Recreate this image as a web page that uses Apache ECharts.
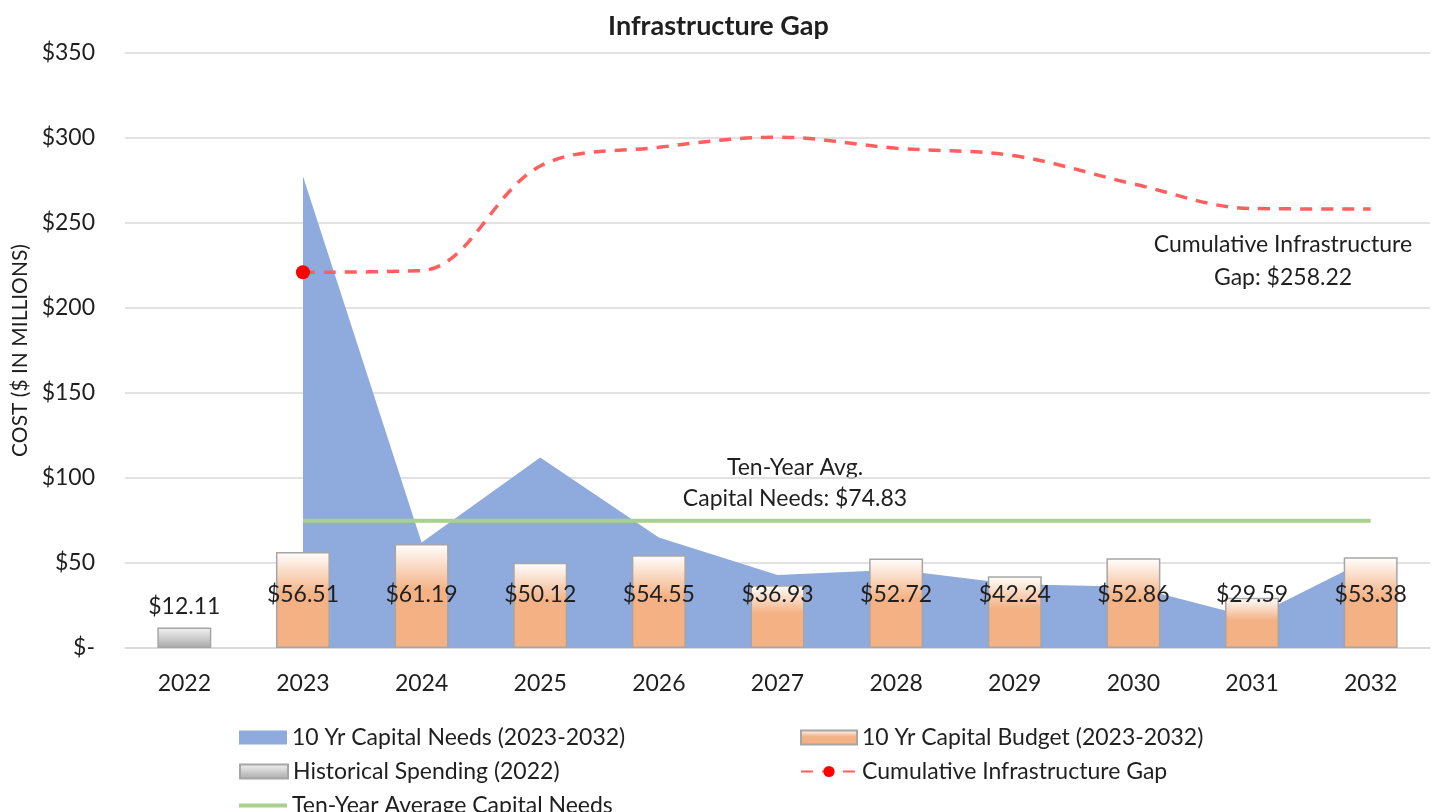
<!DOCTYPE html>
<html>
<head>
<meta charset="utf-8">
<title>Infrastructure Gap</title>
<script src="https://cdn.jsdelivr.net/npm/echarts/dist/echarts.min.js"></script>
<style>
  html, body { margin: 0; padding: 0; background: #fff; }
  #chart { width: 1437px; height: 812px; }
</style>
</head>
<body>
<div id="chart"></div>
<script>
const years = ['2022', '2023', '2024', '2025', '2026', '2027', '2028', '2029', '2030', '2031', '2032']
const capitalNeeds = [null, 277.5, 62, 112, 65, 43, 46, 37.5, 36, 18, 53]
const capitalBudget = [null, 56.51, 61.19, 50.12, 54.55, 36.93, 52.72, 42.24, 52.86, 29.59, 53.38]
const historicalSpending = [12.11, null, null, null, null, null, null, null, null, null, null]
const cumulativeGap = [null, 221, 222, 283.5, 294.5, 300.5, 294, 289.5, 273, 258.5, 258.22]
const tenYearAvg = [null, 74.83, 74.83, 74.83, 74.83, 74.83, 74.83, 74.83, 74.83, 74.83, 74.83]
const yTicks = [0, 50, 100, 150, 200, 250, 300, 350]

const FONT = 'Lato, "Noto Sans", sans-serif'
const TEXT = '#1f1f1f'

const myChart = echarts.init(document.getElementById('chart'))

const money = v => '$' + v.toFixed(2)

// one legend per row so nothing wraps
const legendRow = (left, top, name, extra) => Object.assign({
    left: left,
    top: top,
    itemWidth: 48,
    itemHeight: 14,
    textStyle: { fontSize: 23, color: TEXT, fontFamily: FONT },
    data: [{ name: name, icon: 'rect' }]
}, extra || {})

myChart.setOption({
    animation: false,
    textStyle: { fontFamily: FONT },
    title: {
        text: 'Infrastructure Gap',
        left: 'center',
        top: 8,
        textStyle: { fontSize: 27, fontWeight: 'bold', color: TEXT, fontFamily: FONT }
    },
    grid: { left: 125, right: 7, top: 53, bottom: 164 },
    legend: [
        legendRow(234, 721, '10 Yr Capital Needs (2023-2032)'),
        legendRow(234, 755, 'Historical Spending (2022)'),
        legendRow(234, 789, 'Ten-Year Average Capital Needs', { itemHeight: 4 }),
        legendRow(795, 721, '10 Yr Capital Budget (2023-2032)', { itemWidth: 56 }),
        legendRow(795, 755, 'Cumulative Infrastructure Gap', {
            itemWidth: 56,
            data: [{ name: 'Cumulative Infrastructure Gap' }]
        })
    ],
    xAxis: {
        type: 'category',
        data: years,
        axisLine: { lineStyle: { color: '#d9d9d9', width: 1.5 } },
        axisTick: { show: false },
        axisLabel: { fontSize: 23, color: TEXT, margin: 24, fontFamily: FONT }
    },
    yAxis: {
        type: 'value',
        min: yTicks[0],
        max: yTicks[yTicks.length - 1],
        interval: 50,
        name: 'COST ($ IN MILLIONS)',
        nameLocation: 'middle',
        nameGap: 93,
        nameTextStyle: { fontSize: 21, color: TEXT, fontFamily: FONT },
        axisLine: { show: false },
        axisTick: { show: false },
        axisLabel: {
            fontSize: 23,
            color: TEXT,
            margin: 30,
            fontFamily: FONT,
            formatter: v => v === 0 ? '$-' : '$' + v
        },
        splitLine: { lineStyle: { color: '#d9d9d9', width: 1.5 } }
    },
    series: [{
        name: '10 Yr Capital Needs (2023-2032)',
        type: 'line',
        data: capitalNeeds,
        symbol: 'none',
        z: 1,
        color: '#8faadc',
        lineStyle: { width: 0 },
        areaStyle: { color: '#8faadc', opacity: 1 }
    }, {
        name: 'Historical Spending (2022)',
        type: 'bar',
        data: historicalSpending,
        barWidth: 54,
        barGap: '-100%',
        z: 3,
        itemStyle: {
            color: new echarts.graphic.LinearGradient(0, 0, 0, 1, [
                { offset: 0, color: '#f4f4f4' },
                { offset: 1, color: '#a9a9a9' }
            ]),
            borderColor: '#a6a6a6',
            borderWidth: 1.5
        },
        label: {
            show: true,
            position: 'top',
            distance: 9,
            fontSize: 23,
            color: TEXT,
            fontFamily: FONT,
            formatter: p => money(p.value)
        }
    }, {
        name: '10 Yr Capital Budget (2023-2032)',
        type: 'bar',
        data: capitalBudget,
        barWidth: 54,
        z: 3,
        itemStyle: {
            //上白下橙
            color: new echarts.graphic.LinearGradient(0, 0, 0, 1, [
                { offset: 0, color: '#ffffff' },
                { offset: 0.45, color: '#f4b183' },
                { offset: 1, color: '#f4b183' }
            ]),
            borderColor: '#a6a6a6',
            borderWidth: 1.5
        },
        label: {
            show: true,
            position: 'insideBottom',
            distance: 42,
            fontSize: 23,
            color: TEXT,
            fontFamily: FONT,
            formatter: p => money(p.value)
        }
    }, {
        name: 'Ten-Year Average Capital Needs',
        type: 'line',
        data: tenYearAvg,
        symbol: 'none',
        z: 4,
        color: '#a9d18e',
        lineStyle: { color: '#a9d18e', width: 4 }
    }, {
        name: 'Cumulative Infrastructure Gap',
        type: 'line',
        data: cumulativeGap.map((v, i) => i === 1 ? v : { value: v, symbol: 'none' }),
        smooth: 0.35,
        symbol: 'circle',
        symbolSize: 14,
        z: 5,
        color: '#ff0000',
        itemStyle: { color: '#ff0000' },
        lineStyle: { color: '#ff5f5f', width: 3.5, type: [12, 9] }
    }],
    graphic: [{
        type: 'text',
        x: 795,
        y: 452,
        style: {
            text: 'Ten-Year Avg.\nCapital Needs: $74.83',
            align: 'center',
            lineHeight: 31,
            fontSize: 23,
            fontFamily: FONT,
            fill: TEXT
        }
    }, {
        type: 'text',
        x: 1283,
        y: 228,
        style: {
            text: 'Cumulative Infrastructure\nGap: $258.22',
            align: 'center',
            lineHeight: 33,
            fontSize: 23,
            fontFamily: FONT,
            fill: TEXT
        }
    }]
})
</script>
</body>
</html>
